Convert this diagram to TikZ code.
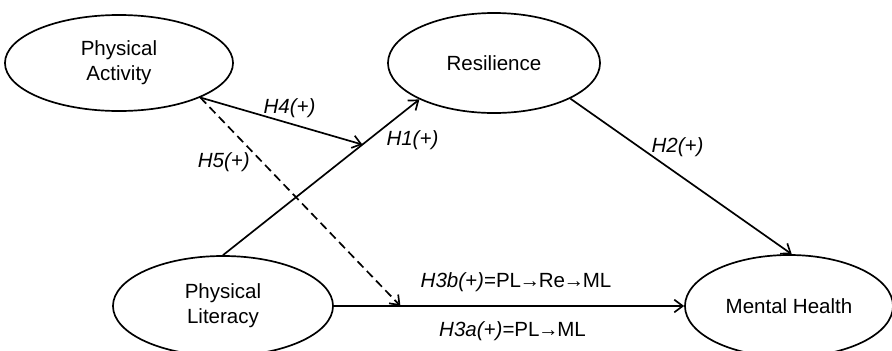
\documentclass[tikz,border=0pt]{standalone}
\usepackage{fontspec}
\setmainfont{Liberation Sans}
\usetikzlibrary{arrows.meta,shapes.geometric,positioning,calc}

\begin{document}
\begin{tikzpicture}[x=0.025cm, y=-0.025cm,
    every node/.style={font=\fontsize{14.6}{17.7}\selectfont},
    construct/.style={ellipse, draw, line width=1.2pt, inner sep=0pt, align=center},
    path/.style={line width=1.2pt, -{Straight Barb[length=6pt,width=9pt]}},
    hyp/.style={font=\fontsize{14.6}{17.7}\selectfont\itshape}]
    \useasboundingbox (0, 0) rectangle (892, 350);

    % Constructs
    \node[construct, minimum width=5.7cm, minimum height=2.4cm] (pa) at (119, 63) {Physical\\Activity};
    \node[construct, minimum width=5.3cm, minimum height=2.5cm] (res) at (494, 63) {Resilience};
    \node[construct, minimum width=5.5cm, minimum height=2.5cm] (pl) at (223, 306) {Physical\\Literacy};
    \node[construct, minimum width=5.2cm, minimum height=2.55cm] (mh) at (789, 306) {Mental Health};

    % Points where the moderation paths meet
    \coordinate (h4end) at ($(pl.north)!0.71!(res.-154)$);
    \coordinate (h5end) at ($(pl.east)!0.19!(mh.west)$);

    % Paths
    \draw[path] (pl.north) -- (res.-154)
        node[hyp, pos=0.74, right=9pt] {H1(+)};
    \draw[path] (res.-25) -- (mh.87)
        node[hyp, pos=0.31, right=5pt] {H2(+)};
    \draw[path] (pl.east) -- (mh.west)
        node[pos=0.52, above=6pt] {\textit{H3b(+)}=PL\kern-1pt→\kern-1ptRe\kern-1pt→\kern-1ptML}
        node[pos=0.51, below=7pt] {\textit{H3a(+)}=PL\kern-1pt→\kern-1ptML};
    \draw[path] (pa.-23) -- (h4end)
        node[hyp, pos=0.55, above] {H4(+)};
    \draw[path, dash pattern=on 6pt off 3.5pt] (pa.-23) -- (h5end)
        node[hyp, pos=0.31, left=5pt] {H5(+)};
\end{tikzpicture}
\end{document}
